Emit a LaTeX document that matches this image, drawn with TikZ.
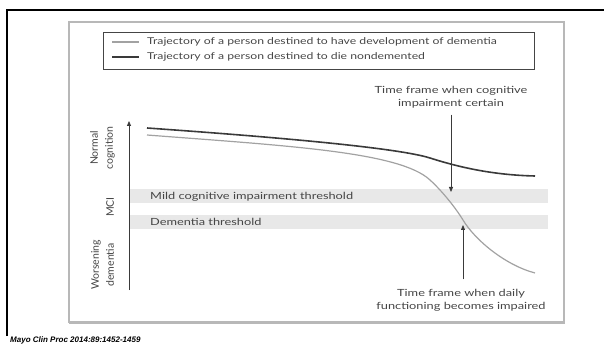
\documentclass[tikz,border=0pt]{standalone}
\usepackage{fontspec}
\setmainfont{Lato}[FakeStretch=1.3]
\newfontfamily\rotfont{Lato}
\setsansfont{Liberation Sans}
\usetikzlibrary{arrows.meta, positioning}

\definecolor{txtgray}{HTML}{454545}
\definecolor{bandgray}{HTML}{E8E8E8}
\definecolor{framegray}{HTML}{B8B8B8}
\definecolor{darkcurve}{HTML}{3A3A3A}
\definecolor{lightcurve}{HTML}{A2A2A2}

\begin{document}
\begin{tikzpicture}[
    x=1pt, y=-1pt,
    every node/.style={inner sep=0pt, text=txtgray},
    lbl/.style={font=\fontsize{9.85}{13}\selectfont, align=center},
    leglbl/.style={font=\fontsize{9.4}{13}\selectfont, anchor=west},
    rotlbl/.style={font=\rotfont\fontsize{10.5}{15}\selectfont, align=center, rotate=90},
    band/.style={fill=bandgray, draw=none},
    pointer/.style={-{Triangle[length=5pt, width=4pt]}, line width=0.8pt, draw=darkcurve},
    trajdem/.style={draw=lightcurve, line width=1.2pt},
    trajnon/.style={draw=darkcurve, line width=1.6pt}
]
\useasboundingbox (0,0) rectangle (604,344);

% Frames
\draw[line width=2pt] (7,336) -- (7,10) -- (604,10);
\draw[framegray, line width=3pt] (69,322) -- (565,322);
\draw[framegray, line width=1.5pt] (69,22) rectangle (564,322);

% Legend
\draw[txtgray, line width=0.8pt] (103,32) rectangle (534,69);
\node[leglbl] (legdem) at (147,42) {Trajectory of a person destined to have development of dementia};
\node[leglbl] (legnon) at (147,57) {Trajectory of a person destined to die nondemented};
\draw[trajdem] ([xshift=-35pt]legdem.west) -- ([xshift=-8pt]legdem.west);
\draw[trajnon] ([xshift=-35pt]legnon.west) -- ([xshift=-8pt]legnon.west);

% Threshold bands
\fill[band] (130,189) rectangle (548,203);
\fill[band] (130,215) rectangle (548,229);
\node[lbl, anchor=west] (mcithr) at (150,196.5) {Mild cognitive impairment threshold};
\node[lbl, anchor=west] (demthr) at (150,222) {Dementia threshold};

% Axis
\coordinate (axbot) at (129,290);
\coordinate (axtop) at (129,121);
\draw[pointer] (axbot) -- (axtop);
\node[rotlbl] (normal) at (102.5,148) {Normal\\cognition};
\node[rotlbl] (mci) at (110,207) {MCI};
\node[rotlbl] (worse) at (102.5,265) {Worsening\\dementia};

% Trajectories
\draw[trajnon] (147,128) .. controls (260,136) and (395,147) .. (430,158)
               .. controls (455,166) and (490,175) .. (535,176);
\draw[trajdem] (147,135) .. controls (290,146) and (400,152) .. (430,180)
               .. controls (442,191) and (455,207) .. (463,220)
               .. controls (475,240) and (505,265) .. (535,273);

% Annotations
\node[lbl] (cogtxt) at (451,97.5) {Time frame when cognitive\\impairment certain};
\node[lbl] (dailytxt) at (461,300.5) {Time frame when daily\\functioning becomes impaired};
\coordinate (mcihit) at (451,192);
\coordinate (demhit) at (463,225);
\draw[pointer, shorten <=6pt] (cogtxt.south -| mcihit) -- (mcihit);
\draw[pointer, shorten <=10pt] (dailytxt.north -| demhit) -- (demhit);

% Source
\node[anchor=west, text=black, font=\sffamily\bfseries\itshape\fontsize{8}{9}\selectfont] (src) at (10,340.5) {Mayo Clin Proc 2014:89:1452-1459};

\end{tikzpicture}
\end{document}
